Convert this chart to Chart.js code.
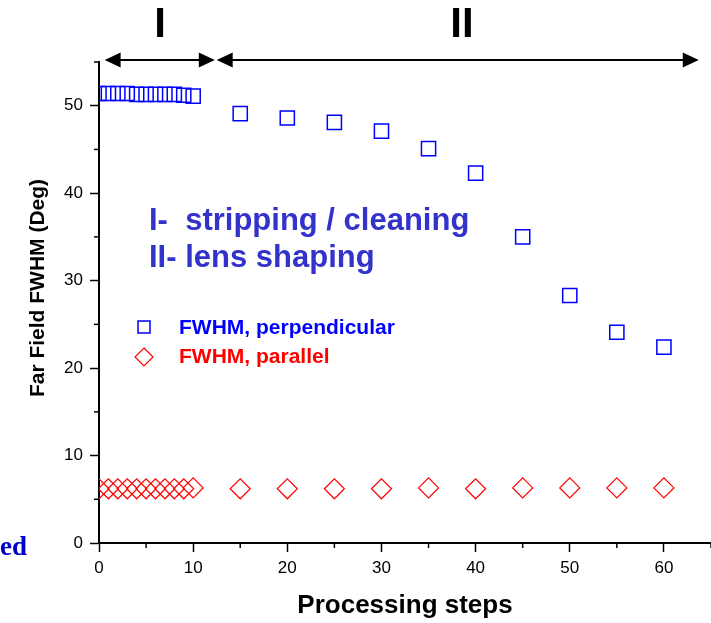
<!DOCTYPE html>
<html>
<head>
<meta charset="utf-8">
<script src="https://cdn.jsdelivr.net/npm/chart.js@4/dist/chart.umd.min.js"></script>
<style>
  body { margin: 0; background: #fff; }
  canvas { display: block; }
</style>
</head>
<body>
<canvas id="myChart" width="711" height="623"></canvas>
<script>
// data
const steps = [0, 1, 2, 3, 4, 5, 6, 7, 8, 9, 10, 15, 20, 25, 30, 35, 40, 45, 50, 55, 60];
const perpendicular = [51.4, 51.4, 51.4, 51.4, 51.3, 51.3, 51.3, 51.3, 51.3, 51.2, 51.1,
                       49.1, 48.6, 48.1, 47.1, 45.1, 42.3, 35.0, 28.3, 24.1, 22.4];
const parallel = [6.2, 6.2, 6.2, 6.2, 6.2, 6.2, 6.2, 6.2, 6.2, 6.2, 6.3,
                  6.2, 6.2, 6.2, 6.2, 6.3, 6.2, 6.3, 6.3, 6.3, 6.3];
const xTicks = [0, 10, 20, 30, 40, 50, 60];
const yTicks = [0, 10, 20, 30, 40, 50];

// stage arrows, in processing-step units
const stageI = [0.6, 12.3];
const stageII = [12.5, 63.7];

const FONT = "'Liberation Sans', Arial, sans-serif";

function arrow(ctx, x1, x2, y) {
    const hl = 16, hw = 7.5;
    ctx.beginPath();
    ctx.moveTo(x1 + hl - 2, y);
    ctx.lineTo(x2 - hl + 2, y);
    ctx.stroke();
    ctx.beginPath();
    ctx.moveTo(x1, y); ctx.lineTo(x1 + hl, y - hw); ctx.lineTo(x1 + hl, y + hw); ctx.closePath();
    ctx.fill();
    ctx.beginPath();
    ctx.moveTo(x2, y); ctx.lineTo(x2 - hl, y - hw); ctx.lineTo(x2 - hl, y + hw); ctx.closePath();
    ctx.fill();
}

const extras = {
    id: "extras",
    afterDraw(chart) {
        const ctx = chart.ctx;
        const xs = chart.scales.x, ys = chart.scales.y;
        const area = chart.chartArea;
        ctx.save();

        // minor ticks
        ctx.strokeStyle = "#000";
        ctx.lineWidth = 1.5;
        for (let v = 5; v <= 65; v += 10) {
            const px = xs.getPixelForValue(v);
            ctx.beginPath(); ctx.moveTo(px, area.bottom); ctx.lineTo(px, area.bottom + 5); ctx.stroke();
        }
        for (let v = 5; v <= 55; v += 10) {
            const py = ys.getPixelForValue(v);
            ctx.beginPath(); ctx.moveTo(area.left, py); ctx.lineTo(area.left - 5, py); ctx.stroke();
        }

        // axis titles
        ctx.fillStyle = "#000";
        ctx.textAlign = "center";
        ctx.textBaseline = "alphabetic";
        ctx.font = "bold 26px " + FONT;
        ctx.fillText("Processing steps", 405, 613);
        ctx.save();
        ctx.translate(44, 288);
        ctx.rotate(-Math.PI / 2);
        ctx.font = "bold 21px " + FONT;
        ctx.fillText("Far Field FWHM (Deg)", 0, 0);
        ctx.restore();

        // stage arrows and labels
        const ay = area.top - 2;
        ctx.lineWidth = 2;
        arrow(ctx, xs.getPixelForValue(stageI[0]), xs.getPixelForValue(stageI[1]), ay);
        arrow(ctx, xs.getPixelForValue(stageII[0]), xs.getPixelForValue(stageII[1]), ay);
        ctx.font = "bold 42px " + FONT;
        ctx.fillText("I", 160, 37);
        ctx.fillText("II", 462, 37);

        // annotation
        ctx.textAlign = "left";
        ctx.fillStyle = "#3333cc";
        ctx.font = "bold 31px " + FONT;
        ctx.fillText("I-  stripping / cleaning", 149, 230);
        ctx.fillText("II- lens shaping", 149, 267);

        // legend
        ctx.lineWidth = 1.5;
        ctx.strokeStyle = "#0000ff";
        ctx.strokeRect(138, 321, 12, 12);
        ctx.strokeStyle = "#ff0000";
        ctx.lineWidth = 1.2;
        ctx.beginPath();
        ctx.moveTo(144, 348); ctx.lineTo(153, 357); ctx.lineTo(144, 366); ctx.lineTo(135, 357); ctx.closePath();
        ctx.stroke();
        ctx.font = "bold 21px " + FONT;
        ctx.fillStyle = "#0000ff";
        ctx.fillText("FWHM, perpendicular", 179, 334);
        ctx.fillStyle = "#ff0000";
        ctx.fillText("FWHM, parallel", 179, 363);

        // leftover caption fragment at the left edge
        ctx.fillStyle = "#0000cc";
        ctx.font = "bold 27px 'Liberation Serif', 'Times New Roman', serif";
        ctx.fillText("ed", 0, 555);

        ctx.restore();
    }
};

const tickFont = { family: FONT, size: 17 };
const majorColor = c => (c.tick && c.tick.value % 10 === 0) ? "#000" : "rgba(0,0,0,0)";

new Chart(document.getElementById("myChart"), {
    type: "scatter",
    data: {
        datasets: [
            {
                label: "FWHM, perpendicular",
                data: steps.map((s, i) => ({ x: s, y: perpendicular[i] })),
                pointStyle: "rect",
                pointRadius: 10,
                borderColor: "#0000ff",
                backgroundColor: "rgba(0,0,0,0)",
                borderWidth: 1.5
            },
            {
                label: "FWHM, parallel",
                data: steps.map((s, i) => ({ x: s, y: parallel[i] })),
                pointStyle: "rectRot",
                pointRadius: 10,
                borderColor: "#ff0000",
                backgroundColor: "rgba(0,0,0,0)",
                borderWidth: 1.2
            }
        ]
    },
    options: {
        animation: false,
        responsive: false,
        devicePixelRatio: 1,
        layout: { autoPadding: false, padding: { top: 62, right: 0, left: 0, bottom: 0 } },
        plugins: { legend: { display: false }, tooltip: { enabled: false } },
        scales: {
            x: {
                type: "linear",
                min: 0,
                max: 65,
                afterFit: s => { s.height = 80; s.paddingRight = 0; s.paddingLeft = 0; },
                ticks: {
                    stepSize: 5,
                    color: "#000",
                    font: tickFont,
                    padding: 6,
                    maxRotation: 0,
                    autoSkip: false,
                    callback: v => xTicks.includes(v) ? v : ""
                },
                grid: { drawOnChartArea: false, tickLength: 9, tickWidth: 1.5, tickColor: majorColor },
                border: { color: "#000", width: 2 }
            },
            y: {
                min: 0,
                max: 55,
                afterFit: s => { s.width = 99; s.paddingTop = 0; s.paddingBottom = 0; },
                ticks: {
                    stepSize: 5,
                    color: "#000",
                    font: tickFont,
                    padding: 7,
                    autoSkip: false,
                    callback: v => yTicks.includes(v) ? v : ""
                },
                grid: { drawOnChartArea: false, tickLength: 9, tickWidth: 1.5, tickColor: majorColor },
                border: { color: "#000", width: 2 }
            }
        }
    },
    plugins: [extras]
});
</script>
</body>
</html>
